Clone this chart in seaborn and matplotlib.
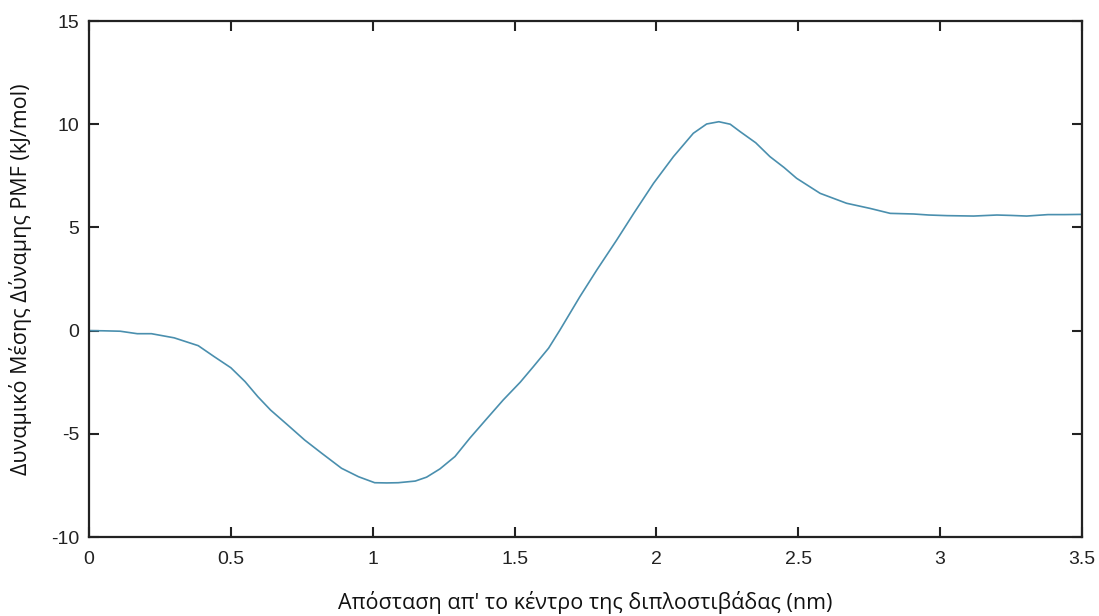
import matplotlib
matplotlib.use("Agg")
import matplotlib.pyplot as plt
import seaborn as sns
import pandas as pd

# Data
distance = [0, 0.05, 0.11, 0.17, 0.22, 0.30, 0.385, 0.44, 0.50, 0.55, 0.595, 0.64,
            0.70, 0.76, 0.82, 0.89, 0.95, 1.007, 1.05, 1.09, 1.15, 1.19, 1.237, 1.29,
            1.343, 1.40, 1.46, 1.52, 1.566, 1.62, 1.66, 1.73, 1.79, 1.86, 1.92, 1.99,
            2.06, 2.13, 2.177, 2.22, 2.26, 2.295, 2.35, 2.40, 2.45, 2.494, 2.577, 2.67,
            2.753, 2.824, 2.906, 2.96, 3.024, 3.118, 3.2, 3.25, 3.305, 3.38, 3.44, 3.5]
pmf = [0, -0.01, -0.03, -0.15, -0.15, -0.35, -0.73, -1.25, -1.8, -2.47, -3.2, -3.85,
       -4.57, -5.3, -5.94, -6.67, -7.08, -7.37, -7.38, -7.37, -7.29, -7.1, -6.70, -6.1,
       -5.2, -4.3, -3.36, -2.5, -1.75, -0.85, 0.03, 1.64, 2.94, 4.39, 5.68, 7.14,
       8.43, 9.56, 10.01, 10.12, 10.0, 9.64, 9.1, 8.43, 7.9, 7.38, 6.65, 6.17,
       5.92, 5.68, 5.65, 5.6, 5.57, 5.55, 5.6, 5.58, 5.55, 5.62, 5.62, 5.63]

x_ticks = [0, 0.5, 1, 1.5, 2, 2.5, 3, 3.5]
x_tick_labels = ["0", "0.5", "1", "1.5", "2", "2.5", "3", "3.5"]
y_ticks = [-10, -5, 0, 5, 10, 15]
y_tick_labels = ["-10", "-5", "0", "5", "10", "15"]

x_label = "Απόσταση απ' το κέντρο της διπλοστιβάδας (nm)"
y_label = "Δυναμικό Μέσης Δύναμης PMF (kJ/mol)"

sns.set_style("ticks")
plt.rcParams['font.family'] = ['Liberation Sans', 'DejaVu Sans']

df = pd.DataFrame({"x": distance, "y": pmf})

fig = plt.figure(figsize=(10.99, 6.16), dpi=100)
ax = fig.add_axes([89 / 1099, 1 - 537 / 616, (1082 - 89) / 1099, (537 - 21) / 616])

sns.lineplot(data=df, x="x", y="y", ax=ax, color="#4a8fae", linewidth=1.2,
             sort=False, estimator=None)

ax.set_xlim(0, 3.5)
ax.set_ylim(-10, 15)
ax.set_xticks(x_ticks)
ax.set_xticklabels(x_tick_labels)
ax.set_yticks(y_ticks)
ax.set_yticklabels(y_tick_labels)

for side in ["top", "right", "bottom", "left"]:
    ax.spines[side].set_visible(True)
    ax.spines[side].set_linewidth(1.6)
    ax.spines[side].set_color("#222222")

ax.tick_params(axis="both", direction="in", length=7.2, width=1.5, color="#222222",
               labelsize=14, labelcolor="#222222", top=True, right=True)
ax.tick_params(axis="x", pad=10)
ax.tick_params(axis="y", pad=7)

ax.set_xlabel(x_label, fontsize=15.5, family=['Open Sans', 'DejaVu Sans'],
              color="#111111", labelpad=17)
ax.set_ylabel(y_label, fontsize=15.5, family=['Open Sans', 'DejaVu Sans'],
              color="#111111", labelpad=14)

fig.savefig("out.png", dpi=100, facecolor="white")
